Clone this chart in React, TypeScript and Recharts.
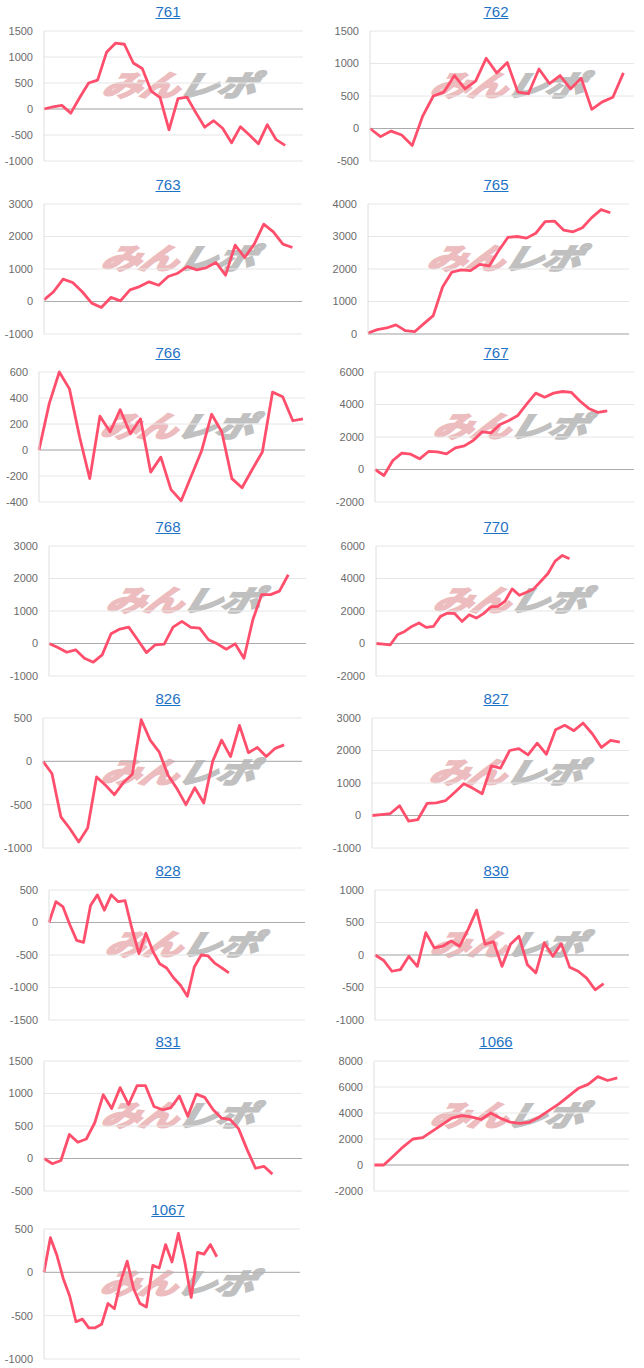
import { CartesianGrid, Line, LineChart, ReferenceLine, XAxis, YAxis } from "recharts";

const titles = ["761", "762", "763", "765", "766", "767", "768", "770", "826", "827", "828", "830", "831", "1066", "1067"];

const s761 = [0, 40, 70, -80, 220, 500, 555, 1090, 1265, 1245, 885, 780, 345, 220, -400, 200, 230, -70, -350, -225, -370, -650, -340, -500, -670, -300, -590, -700];
const s762 = [0, -125, -40, -100, -260, 195, 500, 560, 815, 610, 730, 1080, 855, 1015, 560, 535, 915, 690, 815, 610, 775, 295, 410, 480, 855];
const s763 = [50, 300, 690, 585, 300, -50, -185, 125, 20, 360, 460, 605, 500, 770, 870, 1075, 975, 1045, 1200, 810, 1735, 1355, 1765, 2380, 2145, 1765, 1660];
const s765 = [30, 135, 185, 280, 105, 70, 320, 565, 1445, 1905, 1970, 1950, 2145, 2095, 2555, 2970, 3000, 2950, 3100, 3455, 3475, 3195, 3145, 3270, 3580, 3825, 3730];
const s766 = [0, 355, 600, 470, 100, -220, 260, 140, 310, 125, 240, -170, -55, -305, -390, -200, -10, 275, 140, -220, -290, -150, -15, 445, 410, 225, 240];
const s767 = [0, -370, 555, 1005, 945, 655, 1110, 1085, 965, 1335, 1455, 1785, 2320, 2255, 2770, 3015, 3325, 4040, 4700, 4450, 4700, 4800, 4740, 4185, 3735, 3510, 3610];
const s768 = [0, -125, -270, -195, -455, -575, -350, 300, 445, 505, 115, -280, -40, -20, 505, 680, 495, 475, 115, -10, -175, -10, -455, 730, 1505, 1505, 1610, 2115];
const s770 = [0, -40, -80, 535, 740, 1050, 1260, 990, 1050, 1670, 1875, 1835, 1360, 1775, 1565, 1835, 2250, 2290, 2600, 3360, 2970, 3155, 3360, 3835, 4310, 5070, 5420, 5215];
const s826 = [0, -140, -640, -775, -930, -770, -180, -275, -385, -245, -150, 480, 245, 110, -160, -315, -500, -305, -480, 0, 245, 55, 415, 100, 160, 55, 150, 190];
const s827 = [0, 30, 60, 300, -175, -125, 370, 390, 455, 710, 980, 835, 670, 1525, 1455, 2000, 2060, 1865, 2225, 1885, 2640, 2775, 2610, 2845, 2515, 2095, 2310, 2260];
const s828 = [0, 320, 245, -30, -275, -305, 260, 425, 190, 425, 320, 335, -100, -480, -165, -440, -635, -700, -850, -965, -1135, -685, -500, -515, -630, -700, -775];
const s830 = [0, -80, -250, -225, -20, -175, 345, 110, 135, 215, 135, 395, 690, 165, 205, -175, 165, 290, -150, -275, 190, -20, 175, -190, -250, -355, -535, -440];
const s831 = [0, -80, -30, 370, 250, 300, 550, 980, 770, 1090, 830, 1120, 1120, 800, 750, 780, 960, 650, 990, 940, 750, 620, 600, 460, 140, -150, -120, -240];
const s1066 = [0, 0, 700, 1400, 2000, 2100, 2600, 3100, 3600, 3800, 3700, 3500, 4000, 3600, 3300, 3200, 3300, 3700, 4200, 4700, 5300, 5900, 6200, 6800, 6500, 6700];
const s1067 = [0, 400, 200, -70, -270, -570, -540, -640, -640, -600, -360, -420, -100, 130, -190, -360, -400, 80, 50, 320, 120, 450, 120, -290, 230, 210, 320, 180];

const series = [s761, s762, s763, s765, s766, s767, s768, s770, s826, s827, s828, s830, s831, s1066, s1067];

const tickSets = [
  [-1000, -500, 0, 500, 1000, 1500],
  [-500, 0, 500, 1000, 1500],
  [-1000, 0, 1000, 2000, 3000],
  [0, 1000, 2000, 3000, 4000],
  [-400, -200, 0, 200, 400, 600],
  [-2000, 0, 2000, 4000, 6000],
  [-1000, 0, 1000, 2000, 3000],
  [-2000, 0, 2000, 4000, 6000],
  [-1000, -500, 0, 500],
  [-1000, 0, 1000, 2000, 3000],
  [-1500, -1000, -500, 0, 500],
  [-1000, -500, 0, 500, 1000],
  [-500, 0, 500, 1000, 1500],
  [-2000, 0, 2000, 4000, 6000, 8000],
  [-1000, -500, 0, 500],
];

// x range of each chart (points are game indexes)
const xMaxes = [29, 25, 27, 28, 26.2, 29, 29, 36, 29, 28, 37, 30, 30.5, 26.2, 40];

// layout: column, plot top, plot left, plot right
const layout = [
  [0, 31, 44, 303], [1, 31, 370, 634],
  [0, 204, 44, 302], [1, 204, 368, 629],
  [0, 372, 39, 305], [1, 372, 375, 634],
  [0, 546, 49, 306], [1, 546, 376, 634],
  [0, 718, 43, 302], [1, 718, 372, 629],
  [0, 890, 49, 305], [1, 890, 375, 629],
  [0, 1061, 44, 302], [1, 1061, 374, 629],
  [0, 1229, 44, 300],
];

const PLOT_H = 130;
const tickStyle = { fill: "#6b6b6b", fontSize: 11, fontFamily: "'Liberation Sans', Arial, sans-serif" };

function MiniChart({ idx }: { idx: number }) {
  const [col, top, left, right] = layout[idx];
  const boxLeft = col === 0 ? 0 : 322;
  const ticks = tickSets[idx];
  const data = series[idx].map((v, i) => ({ x: i, v }));
  const width = right - boxLeft;
  const plotW = right - left;
  const titleCenter = col === 0 ? 168 : 496;

  return (
    <>
      <div
        style={{
          position: "absolute",
          left: titleCenter - 50,
          width: 100,
          top: top - 28,
          lineHeight: "18px",
          textAlign: "center",
          fontFamily: "'Liberation Sans', Arial, sans-serif",
          fontSize: 15,
          color: "#1f72c4",
          textDecoration: "underline",
        }}
      >
        {titles[idx]}
      </div>
      <div
        style={{
          position: "absolute",
          left: left + plotW / 2 + 10 - 80,
          top: top + 37,
          width: 170,
          height: 30,
          whiteSpace: "nowrap",
          fontFamily: "'Noto Sans CJK JP', sans-serif",
          fontWeight: 700,
          fontStyle: "italic",
          fontSize: 29,
          lineHeight: "30px",
          letterSpacing: -1,
          WebkitTextStroke: "2px currentColor",
          transform: "scaleX(1.36) skewX(-12deg)",
          transformOrigin: "left center",
        }}
      >
        <span style={{ color: "#ecbcbe" }}>みん</span>
        <span style={{ color: "#c0c0c0" }}>レポ</span>
      </div>
      <div style={{ position: "absolute", left: boxLeft, top: top - 10 }}>
        <LineChart width={width} height={PLOT_H + 20} data={data} margin={{ top: 10, right: 0, bottom: 10, left: 0 }}>
          <CartesianGrid vertical={false} stroke="#e6e6e6" />
          <XAxis type="number" dataKey="x" domain={[0, xMaxes[idx]]} hide />
          <YAxis
            type="number"
            domain={[ticks[0], ticks[ticks.length - 1]]}
            ticks={ticks}
            interval={0}
            width={left - boxLeft}
            tickLine={false}
            tickSize={0}
            tickMargin={11}
            axisLine={{ stroke: "#dedede" }}
            tick={tickStyle}
          />
          <ReferenceLine y={0} stroke="#ababab" />
          <Line
            type="linear"
            dataKey="v"
            stroke="#ff4f6c"
            strokeWidth={2.8}
            strokeLinejoin="round"
            dot={false}
            isAnimationActive={false}
          />
        </LineChart>
      </div>
    </>
  );
}

export default function App() {
  return (
    <div style={{ position: "relative", width: 644, height: 1368, background: "#fff", overflow: "hidden" }}>
      <style>{"body{margin:0}"}</style>
      {titles.map((t, i) => (
        <MiniChart key={t} idx={i} />
      ))}
    </div>
  );
}
